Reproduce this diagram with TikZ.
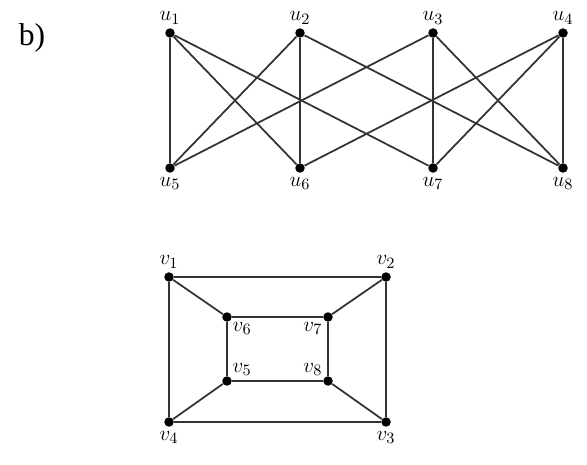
\documentclass[tikz,border=0pt]{standalone}
\usepackage{fontspec}
\setmainfont{Liberation Serif}
\usetikzlibrary{positioning}

\begin{document}
\begin{tikzpicture}[
  x=0.02cm,
  y=-0.02cm,
  vertex/.style={
    circle,
    fill=black,
    inner sep=0pt,
    minimum size=5.4pt
  },
  edge/.style={
    line width=1pt,
    black!80
  },
  vlabel/.style={
    font=\fontsize{13}{15}\selectfont,
    inner sep=1pt
  }
]
  \useasboundingbox (0,0) rectangle (587,465);

  \node[font=\fontsize{18}{21}\selectfont, anchor=center] (part_b) at (32,38) {b)};

  % ----------------------------------------------------
  % TOP GRAPH: u1 ... u8
  % ----------------------------------------------------
  \node[vertex] (u1) at (170,33) {};
  \node[vertex] (u2) at (300,33) {};
  \node[vertex] (u3) at (433,33) {};
  \node[vertex] (u4) at (563,33) {};
  \node[vertex] (u5) at (170,168) {};
  \node[vertex] (u6) at (300,168) {};
  \node[vertex] (u7) at (433,168) {};
  \node[vertex] (u8) at (563,168) {};

  \node[vlabel, above=1pt of u1] (u1_lbl) {$u_1$};
  \node[vlabel, above=1pt of u2] (u2_lbl) {$u_2$};
  \node[vlabel, above=1pt of u3] (u3_lbl) {$u_3$};
  \node[vlabel, above=1pt of u4] (u4_lbl) {$u_4$};
  \node[vlabel, below=1pt of u5] (u5_lbl) {$u_5$};
  \node[vlabel, below=1pt of u6] (u6_lbl) {$u_6$};
  \node[vlabel, below=1pt of u7] (u7_lbl) {$u_7$};
  \node[vlabel, below=1pt of u8] (u8_lbl) {$u_8$};

  \draw[edge] (u1) -- (u5);
  \draw[edge] (u1) -- (u6);
  \draw[edge] (u1) -- (u7);
  \draw[edge] (u2) -- (u5);
  \draw[edge] (u2) -- (u6);
  \draw[edge] (u2) -- (u8);
  \draw[edge] (u3) -- (u5);
  \draw[edge] (u3) -- (u7);
  \draw[edge] (u3) -- (u8);
  \draw[edge] (u4) -- (u6);
  \draw[edge] (u4) -- (u7);
  \draw[edge] (u4) -- (u8);

  % ----------------------------------------------------
  % BOTTOM GRAPH: v1 ... v8
  % ----------------------------------------------------
  \node[vertex] (v1) at (169,277) {};
  \node[vertex] (v2) at (386,277) {};
  \node[vertex] (v3) at (386,422) {};
  \node[vertex] (v4) at (169,422) {};
  \node[vertex] (v5) at (227,381) {};
  \node[vertex] (v6) at (227,317) {};
  \node[vertex] (v7) at (328,317) {};
  \node[vertex] (v8) at (328,381) {};

  \node[vlabel, above=1pt of v1] (v1_lbl) {$v_1$};
  \node[vlabel, above=1pt of v2] (v2_lbl) {$v_2$};
  \node[vlabel, below=1pt of v3] (v3_lbl) {$v_3$};
  \node[vlabel, below=1pt of v4] (v4_lbl) {$v_4$};
  \node[vlabel, above right=0pt and 0pt of v5] (v5_lbl) {$v_5$};
  \node[vlabel, below right=0pt and 0pt of v6] (v6_lbl) {$v_6$};
  \node[vlabel, below left=0pt and 0pt of v7] (v7_lbl) {$v_7$};
  \node[vlabel, above left=0pt and 0pt of v8] (v8_lbl) {$v_8$};

  % outer and inner rectangles
  \draw[edge] (v1) -- (v2) -- (v3) -- (v4) -- (v1);
  \draw[edge] (v6) -- (v7) -- (v8) -- (v5) -- (v6);

  % spokes
  \draw[edge] (v1) -- (v6);
  \draw[edge] (v2) -- (v7);
  \draw[edge] (v3) -- (v8);
  \draw[edge] (v4) -- (v5);

\end{tikzpicture}
\end{document}
